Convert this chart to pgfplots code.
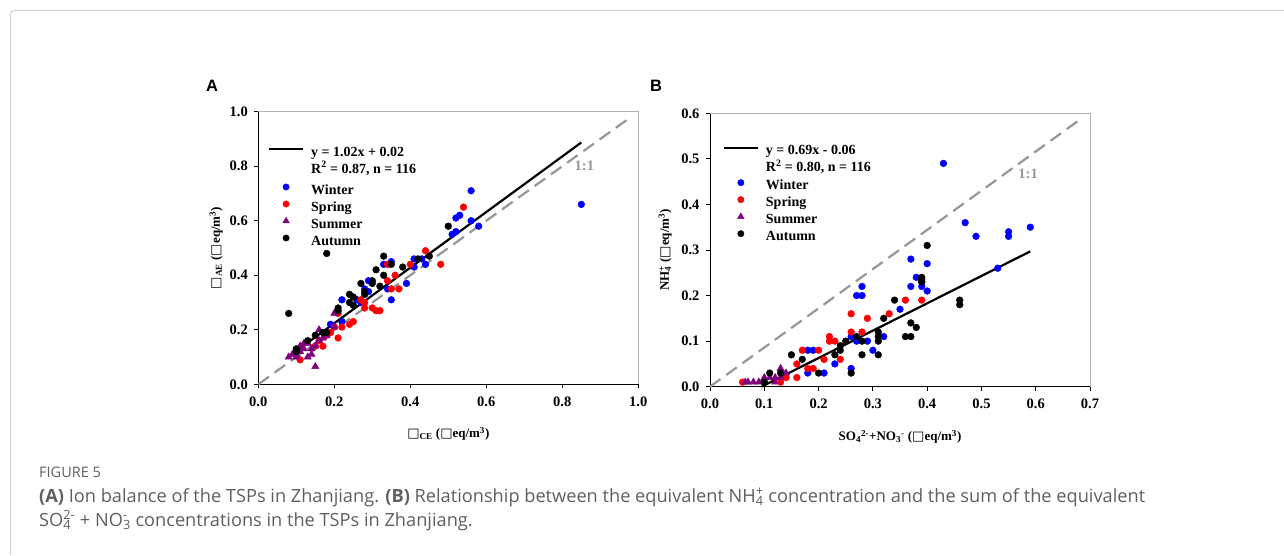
\documentclass[border=0pt]{standalone}
\usepackage{pgfplots}
\pgfplotsset{compat=1.18}
\usepackage{fontspec}
\setmainfont{Liberation Serif}
\newfontfamily\arial{Liberation Sans}
\newfontfamily\capfont{Open Sans}
\newfontfamily\djv{DejaVu Sans}
\newcommand{\tofu}{{\djv\mdseries\char"25A1}}
% stacked subscript and superscript in text font
\newcommand{\subsup}[2]{\mbox{\setbox0\hbox{\textsubscript{#1}}\setbox2\hbox{\textsuperscript{#2}}%
  \ifdim\wd0>\wd2 \rlap{\box2}\box0\else\rlap{\box0}\box2\fi}}

\definecolor{cwin}{RGB}{0,0,255}
\definecolor{cspr}{RGB}{255,0,0}
\definecolor{csum}{RGB}{128,0,128}
\definecolor{cdash}{RGB}{150,150,150}
\definecolor{ccap}{RGB}{95,95,95}

\pgfplotsset{
  ionaxis/.style={
    scale only axis,
    axis x line*=bottom, axis y line*=left,
    axis line style={black, line width=1pt, -},
    tick align=outside, major tick length=4pt,
    tick style={black, line width=0.8pt},
    xticklabel style={yshift=-5pt},
    yticklabel style={xshift=-3pt},
    ticklabel style={font=\fontsize{14.5}{16}\selectfont\bfseries},
    /pgf/number format/fixed, /pgf/number format/fixed zerofill,
    /pgf/number format/precision=1,
    /pgf/number format/assume math mode=true,
    label style={font=\fontsize{13}{15}\selectfont\bfseries},
    clip=false,
    legend cell align=left,
    legend style={draw=none, fill=none, inner sep=0pt, column sep=6pt, row sep=0pt,
      nodes={inner sep=1pt, text height=11pt, text depth=4pt},
      font=\fontsize{14}{16}\selectfont\bfseries, anchor=north west},
  },
  regline/.style={black, line width=2.2pt, forget plot},
  oneone/.style={cdash, line width=2.2pt, dash pattern=on 13pt off 7pt, forget plot},
  dotw/.style={only marks, mark=*, mark size=3.4pt, cwin, forget plot},
  dots/.style={only marks, mark=*, mark size=3.4pt, cspr, forget plot},
  dotu/.style={only marks, mark=triangle*, mark size=4.2pt, csum, forget plot},
  dota/.style={only marks, mark=*, mark size=3.4pt, black, forget plot},
  lgline/.style={legend image code/.code={\draw[black, line width=2.2pt] (0pt,3.6pt) -- (34pt,3.6pt);}},
  lgmark/.style={legend image code/.code={\draw[##1] plot coordinates {(17pt,3.6pt)};}},
}

\begin{document}
\begin{tikzpicture}
\useasboundingbox (0,0) rectangle (1284pt,555pt);
\draw[gray!35, line width=1pt, rounded corners=4pt] (10.5pt,0pt) -- (10.5pt,544.5pt) -- (1290pt,544.5pt);

\node[font=\arial\bfseries\fontsize{16.5}{18}\selectfont] at (212pt,469pt) {A};
\node[font=\arial\bfseries\fontsize{16.5}{18}\selectfont] at (656pt,469pt) {B};

% ---------- panel A ----------
\begin{axis}[ionaxis,
  at={(258.3pt,170.7pt)}, anchor=south west,
  width=380pt, height=272.6pt,
  xmin=0, xmax=1, ymin=0, ymax=1,
  xtick={0,0.2,0.4,0.6,0.8,1.0}, ytick={0,0.2,0.4,0.6,0.8,1.0},
  xlabel={\tofu\textsubscript{CE} (\tofu eq/m\textsuperscript{3})},
  ylabel={\tofu\textsubscript{AE} (\tofu eq/m\textsuperscript{3})},
  xlabel style={at={(axis description cs:0.5,-0.183)}, anchor=center},
  ylabel style={at={(axis description cs:-0.111,0.5)}, anchor=center},
  legend style={at={(0.025,0.882)}},
]
\addlegendimage{lgline}
\addlegendentry{y = 1.02x + 0.02}
\addlegendimage{empty legend}
\addlegendentry[text depth=8pt]{R\textsuperscript{2} = 0.87, n = 116}
\addlegendimage{lgmark, only marks, mark=*, mark size=3.2pt, cwin}
\addlegendentry{Winter}
\addlegendimage{lgmark, only marks, mark=*, mark size=3.2pt, cspr}
\addlegendentry{Spring}
\addlegendimage{lgmark, only marks, mark=triangle*, mark size=3.8pt, csum}
\addlegendentry{Summer}
\addlegendimage{lgmark, only marks, mark=*, mark size=3.2pt, black}
\addlegendentry{Autumn}

\addplot[oneone] coordinates {(0,0) (0.98,0.98)};
\addplot[dotw] coordinates {
 (0.85,0.66) (0.56,0.71) (0.58,0.58) (0.56,0.60) (0.52,0.61) (0.53,0.62)
 (0.51,0.55) (0.52,0.56) (0.41,0.46) (0.41,0.43) (0.44,0.44) (0.43,0.46)
 (0.39,0.37) (0.35,0.45) (0.33,0.44) (0.35,0.31) (0.34,0.35) (0.29,0.38)
 (0.29,0.34) (0.28,0.35) (0.22,0.31) (0.22,0.23) (0.19,0.22) (0.26,0.31)
 (0.27,0.30)
};
\addplot[dots] coordinates {
 (0.54,0.65) (0.44,0.49) (0.48,0.44) (0.40,0.44) (0.37,0.35) (0.36,0.40)
 (0.34,0.44) (0.34,0.38) (0.35,0.35) (0.30,0.28) (0.31,0.27) (0.32,0.27)
 (0.28,0.28) (0.28,0.30) (0.27,0.31) (0.25,0.23) (0.24,0.22) (0.22,0.21)
 (0.21,0.17) (0.19,0.19) (0.17,0.14) (0.11,0.09) (0.20,0.21) (0.21,0.26)
 (0.15,0.14) (0.16,0.16) (0.18,0.18)
};
\addplot[dotu] coordinates {
 (0.15,0.065) (0.20,0.26) (0.16,0.20) (0.20,0.21) (0.08,0.10) (0.09,0.11)
 (0.11,0.12) (0.12,0.13) (0.13,0.10) (0.14,0.11) (0.15,0.14) (0.16,0.16)
 (0.12,0.15) (0.14,0.13) (0.18,0.18) (0.10,0.11) (0.13,0.15) (0.10,0.10)
 (0.11,0.14) (0.17,0.17)
};
\addplot[dota] coordinates {
 (0.08,0.26) (0.18,0.48) (0.50,0.58) (0.45,0.47) (0.42,0.46) (0.38,0.43)
 (0.35,0.44) (0.33,0.47) (0.33,0.40) (0.31,0.42) (0.32,0.36) (0.30,0.38)
 (0.30,0.37) (0.27,0.37) (0.28,0.34) (0.28,0.33) (0.24,0.33) (0.25,0.32)
 (0.24,0.30) (0.25,0.29) (0.21,0.28) (0.21,0.27) (0.18,0.19) (0.15,0.18)
 (0.13,0.16) (0.10,0.13) (0.10,0.12) (0.17,0.19)
};
\addplot[regline] coordinates {(0.08,0.1016) (0.85,0.887)};
\node[text=cdash, font=\fontsize{14.5}{16}\selectfont\bfseries] at (axis cs:0.858,0.80) {1:1};
\draw[gray!60, line width=1pt] (rel axis cs:0,1) -- (rel axis cs:1,1) -- (rel axis cs:1,0);
\end{axis}

% ---------- panel B ----------
\begin{axis}[ionaxis,
  at={(710pt,168.3pt)}, anchor=south west,
  width=380pt, height=273.4pt,
  xmin=0, xmax=0.7, ymin=0, ymax=0.6,
  xtick={0,0.1,0.2,0.3,0.4,0.5,0.6,0.7}, ytick={0,0.1,0.2,0.3,0.4,0.5,0.6},
  xlabel={SO\textsubscript{4}\textsuperscript{2-}+NO\textsubscript{3}\textsuperscript{-} (\tofu eq/m\textsuperscript{3})},
  ylabel={NH\subsup{4}{+} (\tofu eq/m\textsuperscript{3})},
  xlabel style={at={(axis description cs:0.5,-0.183)}, anchor=center},
  ylabel style={at={(axis description cs:-0.118,0.5)}, anchor=center},
  legend style={at={(0.033,0.893)}},
]
\addlegendimage{lgline}
\addlegendentry{y = 0.69x - 0.06}
\addlegendimage{empty legend}
\addlegendentry[text depth=5pt]{R\textsuperscript{2} = 0.80, n = 116}
\addlegendimage{lgmark, only marks, mark=*, mark size=3.2pt, cwin}
\addlegendentry{Winter}
\addlegendimage{lgmark, only marks, mark=*, mark size=3.2pt, cspr}
\addlegendentry{Spring}
\addlegendimage{lgmark, only marks, mark=triangle*, mark size=3.8pt, csum}
\addlegendentry{Summer}
\addlegendimage{lgmark, only marks, mark=*, mark size=3.2pt, black}
\addlegendentry{Autumn}

\addplot[oneone] coordinates {(0,0) (0.68,0.585)};
\addplot[dotw] coordinates {
 (0.43,0.49) (0.47,0.36) (0.49,0.33) (0.55,0.34) (0.55,0.33) (0.59,0.35)
 (0.53,0.26) (0.40,0.27) (0.37,0.28) (0.38,0.24) (0.37,0.22) (0.39,0.22)
 (0.40,0.21) (0.35,0.17) (0.28,0.22) (0.27,0.20) (0.28,0.20) (0.32,0.11)
 (0.29,0.10) (0.27,0.10) (0.26,0.11) (0.30,0.08) (0.23,0.05) (0.26,0.04)
 (0.21,0.03) (0.18,0.03) (0.18,0.08) (0.19,0.08) (0.39,0.23)
};
\addplot[dots] coordinates {
 (0.36,0.19) (0.39,0.19) (0.33,0.16) (0.29,0.15) (0.26,0.16) (0.26,0.12)
 (0.28,0.12) (0.22,0.11) (0.22,0.10) (0.23,0.10) (0.20,0.08) (0.17,0.08)
 (0.21,0.06) (0.24,0.06) (0.16,0.05) (0.18,0.04) (0.19,0.04) (0.16,0.02)
 (0.14,0.02) (0.13,0.01) (0.06,0.01)
};
\addplot[dotu] coordinates {
 (0.065,0.01) (0.07,0.01) (0.08,0.01) (0.09,0.01) (0.10,0.02) (0.11,0.02)
 (0.12,0.02) (0.13,0.04) (0.14,0.03) (0.10,0.015) (0.12,0.01) (0.13,0.02)
};
\addplot[dota] coordinates {
 (0.40,0.31) (0.39,0.24) (0.39,0.235) (0.39,0.23) (0.46,0.19) (0.46,0.18)
 (0.34,0.19) (0.32,0.15) (0.37,0.14) (0.38,0.13) (0.36,0.11) (0.37,0.11)
 (0.31,0.12) (0.31,0.11) (0.31,0.10) (0.27,0.11) (0.25,0.10) (0.24,0.09)
 (0.24,0.08) (0.23,0.07) (0.28,0.07) (0.31,0.07) (0.26,0.03) (0.20,0.03)
 (0.17,0.06) (0.15,0.07) (0.11,0.03) (0.13,0.03) (0.10,0.01) (0.28,0.10)
};
\addplot[regline] coordinates {(0.095,0.0) (0.59,0.297)};
\node[text=cdash, font=\fontsize{14.5}{16}\selectfont\bfseries] at (axis cs:0.586,0.468) {1:1};
\draw[gray!60, line width=1pt] (rel axis cs:0,1) -- (rel axis cs:1,1) -- (rel axis cs:1,0);
\end{axis}

% ---------- caption ----------
\node[anchor=base west, inner sep=0pt, text=ccap, font=\capfont\fontsize{14.5}{16}\selectfont] at (39pt,78pt) {FIGURE 5};
\node[anchor=base west, inner sep=0pt, text=ccap, font=\capfont\fontsize{18.2}{21}\selectfont] at (39pt,53pt)
  {\textbf{(A)} Ion balance of the TSPs in Zhanjiang. \textbf{(B)} Relationship between the equivalent NH\subsup{4}{+} concentration and the sum of the equivalent};
\node[anchor=base west, inner sep=0pt, text=ccap, font=\capfont\fontsize{18.2}{21}\selectfont] at (39pt,29pt)
  {SO\subsup{4}{2-} + NO\subsup{3}{-} concentrations in the TSPs in Zhanjiang.};
\end{tikzpicture}
\end{document}
